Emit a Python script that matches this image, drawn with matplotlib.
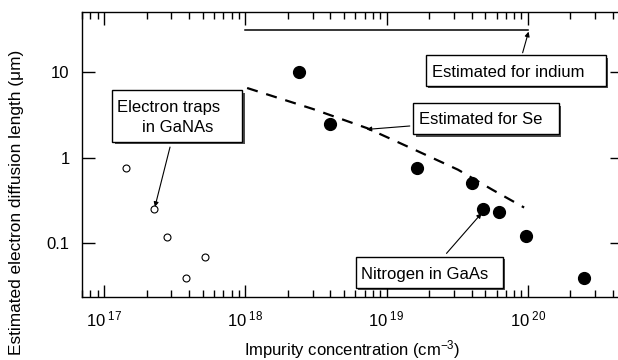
import matplotlib
matplotlib.use('Agg')
import matplotlib.pyplot as plt
import matplotlib.patheffects as pe
from matplotlib.patches import Rectangle
from matplotlib.ticker import LogLocator, NullLocator, FixedLocator

plt.rcParams['font.family'] = ['Liberation Sans', 'DejaVu Sans']
plt.rcParams['mathtext.fontset'] = 'custom'
plt.rcParams['mathtext.rm'] = 'Liberation Sans'
plt.rcParams['mathtext.it'] = 'Liberation Sans:italic'
plt.rcParams['mathtext.bf'] = 'Liberation Sans:bold'

# Nitrogen in GaAs (filled)
n_x = [2.4e18, 4.0e18, 1.64e19, 4.0e19, 4.8e19, 6.2e19, 9.7e19, 2.5e20]
n_y = [10, 2.47, 0.75, 0.51, 0.25, 0.23, 0.12, 0.039]
# electron traps in GaNAs (open)
trap_x = [1.42e17, 2.26e17, 2.8e17, 3.8e17, 5.2e17]
trap_y = [0.75, 0.25, 0.118, 0.039, 0.069]
# estimated for Se (dashed)
se_x = [1.03e18, 3.0e18, 7.3e18, 1.6e19, 3.2e19, 5.6e19, 9.4e19]
se_y = [6.5, 3.7, 2.2, 1.22, 0.72, 0.42, 0.26]
# estimated for indium (solid)
in_x = [1e18, 1e20]
in_y = [31, 31]

xticks = [1e17, 1e18, 1e19, 1e20]
xticklabels = [r'$\mathregular{10^{\ 17}}$', r'$\mathregular{10^{\ 18}}$',
               r'$\mathregular{10^{\ 19}}$', r'$\mathregular{10^{\ 20}}$']
yticks = [0.1, 1, 10]
yticklabels = ['0.1', '1', '10']

fig = plt.figure(figsize=(6.18, 3.6), dpi=100)
ax = fig.add_axes([82/618, 63/360, 540/618, 285/360])
ax.set_xscale('log')
ax.set_yscale('log')
ax.set_xlim(10**16.8443, 10**20.666)
ax.set_ylim(10**-1.6316, 10**1.7018)

ax.plot(in_x, in_y, color='k', lw=1.1)
ax.plot(se_x, se_y, color='k', lw=1.6, dashes=(5, 4))
ax.plot(n_x, n_y, 'o', color='k', ms=8.5, ls='none')
ax.plot(trap_x, trap_y, 'o', mfc='white', mec='k', mew=0.8, ms=5, ls='none')

ax.set_xticks(xticks)
ax.set_xticklabels(xticklabels)
ax.xaxis.set_minor_locator(LogLocator(base=10, subs=range(2, 10)))
ax.xaxis.set_minor_formatter(plt.NullFormatter())
ax.yaxis.set_major_locator(FixedLocator(yticks))
ax.set_yticklabels(yticklabels)
ax.yaxis.set_minor_locator(NullLocator())
ax.tick_params(which='both', direction='in', top=True, right=True, width=1, labelsize=12, pad=9)
ax.tick_params(which='major', length=9)
ax.tick_params(which='minor', length=5)
for s in ax.spines.values():
    s.set_linewidth(1)

fig.text(352/618, 1 - 350/360, r'Impurity concentration (cm$^{\mathregular{-3}}$)',
         ha='center', va='center', fontsize=12)
fig.text(17/618, 1 - 202/360, 'Estimated electron diffusion length (μm)',
         ha='center', va='center', rotation=90, fontsize=12.4)

# label boxes with shadow
shadow = [pe.SimplePatchShadow(offset=(1.8, -1.8), shadow_rgbFace='k', alpha=0.7), pe.Normal()]


def box(x0, x1, y0, y1):
    r = Rectangle((x0, y0), x1 - x0, y1 - y0, transform=ax.transAxes, fc='white', ec='k',
                  lw=1, zorder=5, clip_on=False)
    r.set_path_effects(shadow)
    ax.add_patch(r)


def arrow(p0, p1):
    ax.annotate('', xy=p1, xycoords='axes fraction', xytext=p0, textcoords='axes fraction',
                arrowprops=dict(arrowstyle='-|>', color='k', lw=0.8, mutation_scale=7,
                                shrinkA=0, shrinkB=0), zorder=6)


box(0.0556, 0.2963, 0.5439, 0.7263)
ax.text(0.0643, 0.650, 'Electron traps', transform=ax.transAxes, fontsize=12, zorder=6)
ax.text(0.1106, 0.578, 'in GaNAs', transform=ax.transAxes, fontsize=12, zorder=6)
arrow((0.163, 0.526), (0.135, 0.316))

box(0.637, 0.970, 0.7404, 0.8491)
ax.text(0.6476, 0.773, 'Estimated for indium', transform=ax.transAxes, fontsize=12, zorder=6)
arrow((0.816, 0.857), (0.827, 0.931))

box(0.613, 0.883, 0.5719, 0.6807)
ax.text(0.624, 0.607, 'Estimated for Se', transform=ax.transAxes, fontsize=12, zorder=6)
arrow((0.607, 0.600), (0.527, 0.588))

box(0.5074, 0.7796, 0.0316, 0.1404)
ax.text(0.5167, 0.062, 'Nitrogen in GaAs', transform=ax.transAxes, fontsize=12, zorder=6)
arrow((0.675, 0.153), (0.740, 0.294))

plt.savefig('out.png', dpi=100)
